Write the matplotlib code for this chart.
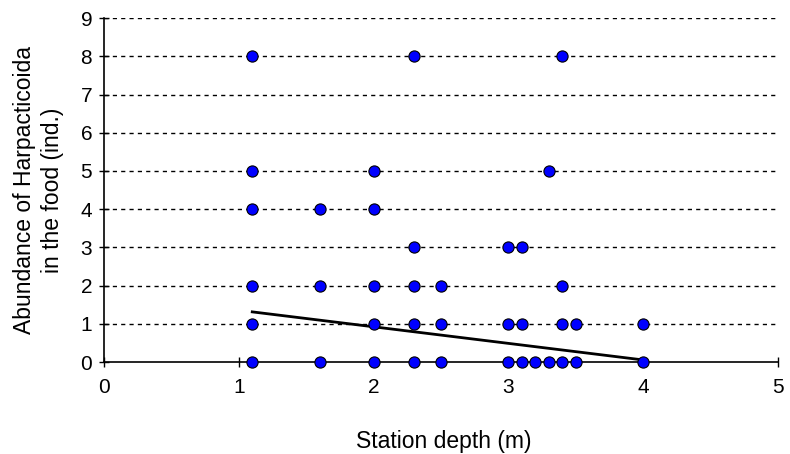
import matplotlib
matplotlib.use("Agg")
import matplotlib.pyplot as plt
import numpy as np

plt.rcParams['font.family'] = ['Liberation Sans', 'DejaVu Sans']

# Station depth (m) and abundance of Harpacticoida in the food (ind.)
depth = [1.1, 2.3, 3.4,
         1.1, 2.0, 3.3,
         1.1, 1.6, 2.0,
         2.3, 3.0, 3.1,
         1.1, 1.6, 2.0, 2.3, 2.5, 3.4,
         1.1, 2.0, 2.3, 2.5, 3.0, 3.1, 3.4, 3.5, 4.0,
         1.1, 1.6, 2.0, 2.3, 2.5, 3.0, 3.1, 3.2, 3.3, 3.4, 3.5, 4.0]
abundance = [8, 8, 8,
             5, 5, 5,
             4, 4, 4,
             3, 3, 3,
             2, 2, 2, 2, 2, 2,
             1, 1, 1, 1, 1, 1, 1, 1, 1,
             0, 0, 0, 0, 0, 0, 0, 0, 0, 0, 0, 0]

# Linear trend: abundance = intercept + slope * depth
trend_intercept = 1.79
trend_slope = -0.434
trend_range = [1.1, 4.0]

x_ticks = [0, 1, 2, 3, 4, 5]
y_ticks = [0, 1, 2, 3, 4, 5, 6, 7, 8, 9]

fig = plt.figure(figsize=(7.9, 4.54), dpi=100)
ax = fig.add_axes([0.1316, 0.2026, 0.8532, 0.7574])

for y in y_ticks[1:]:
    ax.axhline(y, color='black', lw=1.0, ls=(0, (3, 3)), zorder=1)

tx = np.array(trend_range)
ax.plot(tx, trend_intercept + trend_slope * tx, color='black', lw=2.0, zorder=2)

ax.scatter(depth, abundance, s=65, c='#0000FF', edgecolors='black',
           linewidths=0.8, zorder=3, clip_on=False)

ax.set_xlim(0, 5)
ax.set_ylim(0, 9)
ax.set_xticks(x_ticks)
ax.set_yticks(y_ticks)
ax.tick_params(direction='inout', length=7, width=1, labelsize=15)
ax.tick_params(axis='y', pad=5)
ax.tick_params(axis='x', pad=8)

for side in ('top', 'right'):
    ax.spines[side].set_visible(False)
for side in ('left', 'bottom'):
    ax.spines[side].set_linewidth(1.2)

ax.set_xlabel('Station depth (m)', fontsize=16.5, va='center')
ax.xaxis.set_label_coords(0.504, -0.23)
ax.set_ylabel('Abundance of Harpacticoida\nin the food (ind.)', fontsize=16.5,
              linespacing=1.3, va='center')
ax.yaxis.set_label_coords(-0.097, 0.5)

fig.savefig('out.png', dpi=100)
